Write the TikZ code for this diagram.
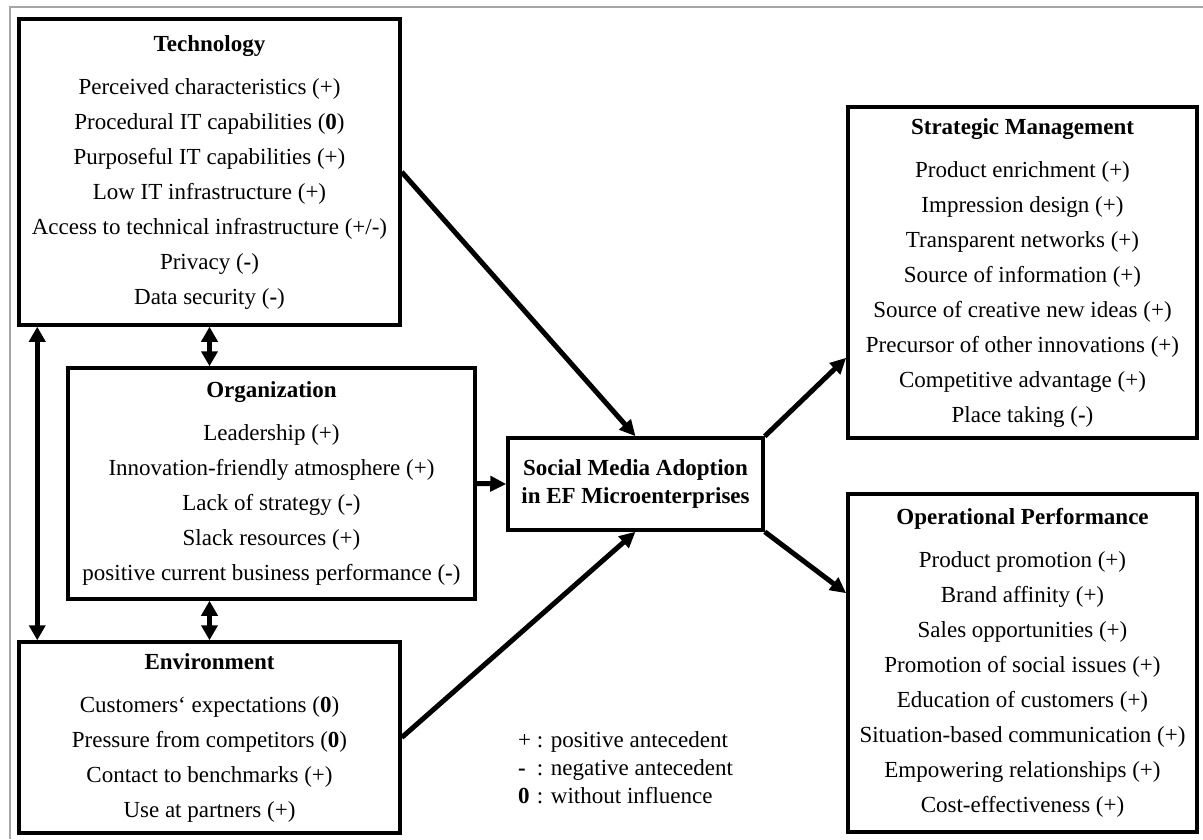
\documentclass[tikz,border=0pt]{standalone}
\usepackage{fontspec}
\setmainfont{Liberation Serif}
\usetikzlibrary{arrows.meta}

\begin{document}
\begin{tikzpicture}[
  x=1pt, y=-1pt,
  box/.style={draw, line width=3.5pt, align=center, inner sep=0pt,
    font=\fontsize{23}{35}\selectfont},
  link/.style={line width=5pt, -{Triangle[length=16pt,width=15pt]}},
  both/.style={line width=5pt,
    {Triangle[length=15pt,width=16pt]}-{Triangle[length=15pt,width=16pt]}}
  ]

\useasboundingbox (0,0) rectangle (1203,839);
% Frame
\draw[gray!70, line width=2pt] (10,839) -- (10,7) -- (1203,7);

% Antecedents
\node[box, minimum width=381pt, minimum height=306pt] (tech) at (209.5,172) {%
  \textbf{Technology}\\[8pt]
  Perceived characteristics (+)\\
  Procedural IT capabilities (\textbf{0})\\
  Purposeful IT capabilities (+)\\
  Low IT infrastructure (+)\\
  Access to technical infrastructure (+/-)\\
  Privacy (\textbf{-})\\
  Data security (\textbf{-})};

\node[box, minimum width=407pt, minimum height=231pt] (org) at (271.5,483.5) {%
  \textbf{Organization}\\[8pt]
  Leadership (+)\\
  Innovation-friendly atmosphere (+)\\
  Lack of strategy (-)\\
  Slack resources (+)\\
  positive current business performance (\textbf{-})};

\node[box, minimum width=381pt, minimum height=191pt] (env) at (209.5,737.5) {%
  \textbf{Environment}\\[8pt]
  Customers‘ expectations (\textbf{0})\\
  Pressure from competitors (\textbf{0})\\
  Contact to benchmarks (+)\\
  Use at partners (+)};

% Adoption
\node[box, minimum width=255pt, minimum height=92pt,
  font=\bfseries\fontsize{23}{28}\selectfont] (sma) at (635.5,484) {%
  Social Media Adoption\\
  in EF Microenterprises};

% Consequences
\node[box, minimum width=349pt, minimum height=331pt] (strat) at (1022.5,272.5) {%
  \textbf{Strategic Management}\\[8pt]
  Product enrichment (+)\\
  Impression design (+)\\
  Transparent networks (+)\\
  Source of information (+)\\
  Source of creative new ideas (+)\\
  Precursor of other innovations (+)\\
  Competitive advantage (+)\\
  Place taking (\textbf{-})};

\node[box, minimum width=349pt, minimum height=338pt] (oper) at (1022.5,663) {%
  \textbf{Operational Performance}\\[8pt]
  Product promotion (+)\\
  Brand affinity (+)\\
  Sales opportunities (+)\\
  Promotion of social issues (+)\\
  Education of customers (+)\\
  Situation-based communication (+)\\
  Empowering relationships (+)\\
  Cost-effectiveness (+)};

% Legend
\node[anchor=west, inner sep=0pt, font=\fontsize{23}{28}\selectfont] (legend)
  at (518,770) {\begin{tabular}{@{}l@{ : }l@{}}
  + & positive antecedent\\
  \textbf{-} & negative antecedent\\
  \textbf{0} & without influence
  \end{tabular}};

% Links
\draw[link] (tech.east) -- (sma.north);
\draw[link] (org.east) -- (sma.west);
\draw[link] (env.east) -- (sma.south);
\draw[link] (sma.north east) -- ([yshift=82pt]strat.south west);
\draw[link] (sma.south east) -- ([yshift=-101pt]oper.north west);

% Mutual links
\draw[both] (tech.south) -- (tech.south |- org.north);
\draw[both] (env.north |- org.south) -- (env.north);
\draw[both] ([xshift=20pt]tech.south west) -- ([xshift=20pt]env.north west);

\end{tikzpicture}
\end{document}
